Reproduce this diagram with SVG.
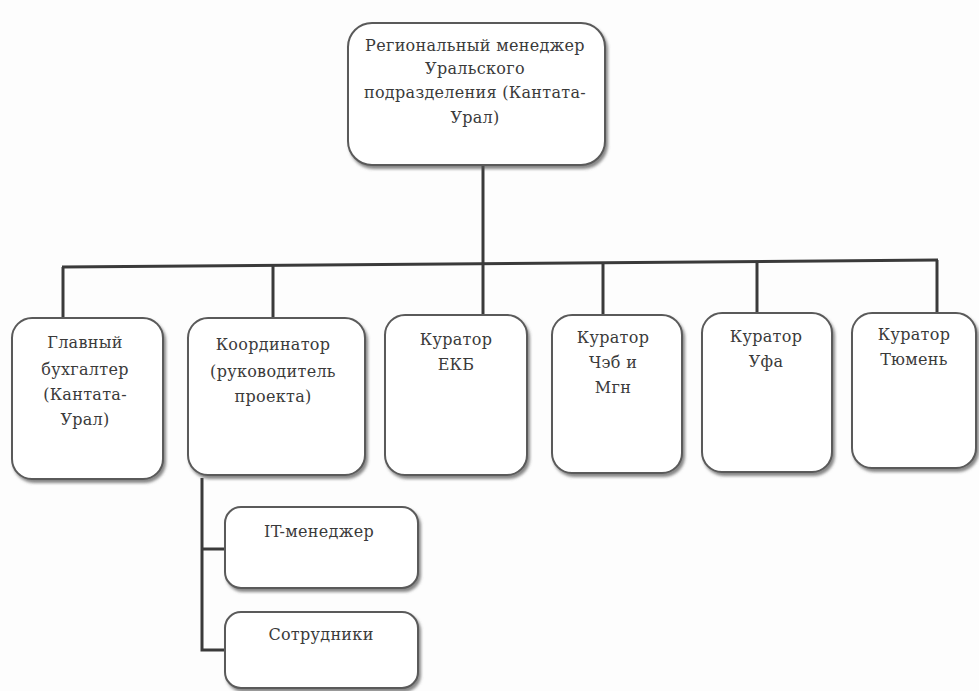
<svg xmlns="http://www.w3.org/2000/svg" width="979" height="691" viewBox="0 0 979 691">
<defs>
<filter id="sh" x="-10%" y="-10%" width="130%" height="130%">
<feDropShadow dx="2" dy="3" stdDeviation="1.5" flood-color="#555" flood-opacity="0.7"/>
</filter>
</defs>
<style>
.box{fill:#fff;stroke:#5a5a5a;stroke-width:2;filter:url(#sh)}
text{font-family:'DejaVu Serif','Liberation Serif',serif;font-size:16px;fill:#3a3a3a;text-anchor:middle;letter-spacing:0.3px}
.ln{stroke:#3a3a3a;stroke-width:3;fill:none}
</style>
<rect width="979" height="691" fill="#fdfdfd"/>
<g id="connectors">
<line class="ln" x1="483" y1="165" x2="483" y2="264"/>
<line class="ln" x1="62" y1="267" x2="938" y2="260"/>
<line class="ln" x1="63" y1="267" x2="63" y2="318"/>
<line class="ln" x1="273" y1="265" x2="273" y2="318"/>
<line class="ln" x1="483" y1="264" x2="483" y2="315"/>
<line class="ln" x1="603" y1="263" x2="603" y2="315"/>
<line class="ln" x1="757" y1="261" x2="757" y2="313"/>
<line class="ln" x1="937" y1="260" x2="937" y2="313"/>
<polyline class="ln" points="202,478 202,650 225,650"/>
<line class="ln" x1="202" y1="549" x2="225" y2="549"/>
</g>
<g id="n-top">
<rect class="box" x="348" y="23" width="257" height="142" rx="24"/>
<text x="475" y="51">Региональный менеджер</text>
<text x="475" y="74">Уральского</text>
<text x="475" y="98">подразделения (Кантата-</text>
<text x="475" y="123">Урал)</text>
</g>
<g id="n-buh">
<rect class="box" x="12" y="318" width="151" height="161" rx="20"/>
<text x="85" y="348">Главный</text>
<text x="85" y="375">бухгалтер</text>
<text x="85" y="400">(Кантата-</text>
<text x="85" y="425">Урал)</text>
</g>
<g id="n-coord">
<rect class="box" x="188" y="318" width="177" height="157" rx="20"/>
<text x="273" y="350">Координатор</text>
<text x="273" y="377">(руководитель</text>
<text x="273" y="402">проекта)</text>
</g>
<g id="n-ekb">
<rect class="box" x="385" y="315" width="142" height="160" rx="20"/>
<text x="456" y="345">Куратор</text>
<text x="456" y="370">ЕКБ</text>
</g>
<g id="n-chb">
<rect class="box" x="552" y="315" width="130" height="158" rx="20"/>
<text x="613" y="343">Куратор</text>
<text x="613" y="368">Чэб и</text>
<text x="613" y="393">Мгн</text>
</g>
<g id="n-ufa">
<rect class="box" x="702" y="313" width="130" height="159" rx="20"/>
<text x="766" y="342">Куратор</text>
<text x="766" y="367">Уфа</text>
</g>
<g id="n-tum">
<rect class="box" x="852" y="313" width="124" height="155" rx="20"/>
<text x="914" y="340">Куратор</text>
<text x="914" y="365">Тюмень</text>
</g>
<g id="n-it">
<rect class="box" x="225" y="507" width="193" height="81" rx="16"/>
<text x="319" y="537">IT-менеджер</text>
</g>
<g id="n-staff">
<rect class="box" x="225" y="612" width="193" height="76" rx="16"/>
<text x="321" y="640">Сотрудники</text>
</g>
</svg>
